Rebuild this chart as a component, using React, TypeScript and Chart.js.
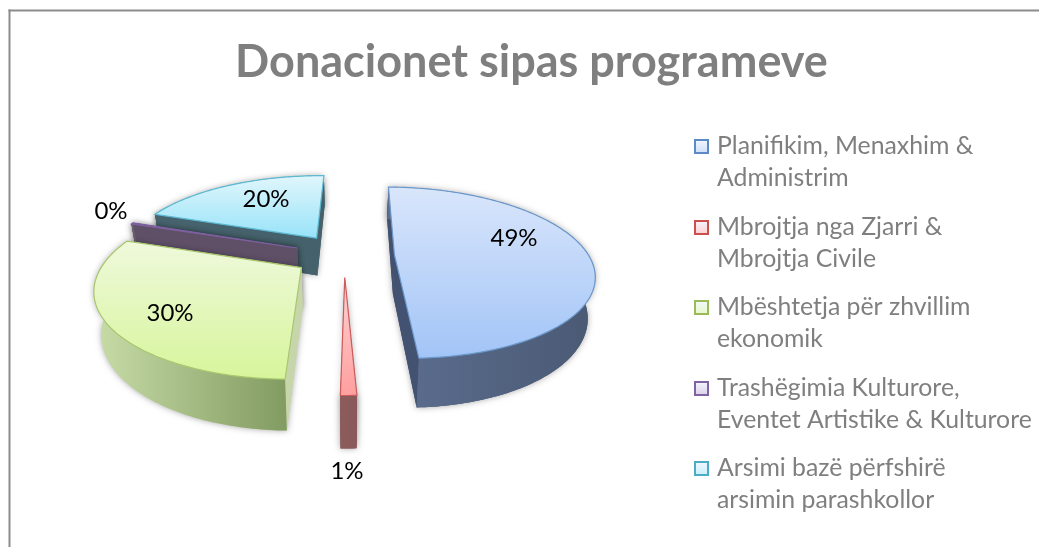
import React, { useEffect, useRef } from "react";
import { Chart, registerables } from "chart.js";

Chart.register(...registerables);

// ---- data ----
const titleText = "Donacionet sipas programeve";
const categories = [
  ["Planifikim, Menaxhim &", "Administrim"],
  ["Mbrojtja nga Zjarri &", "Mbrojtja Civile"],
  ["Mbështetja për zhvillim", "ekonomik"],
  ["Trashëgimia Kulturore,", "Eventet Artistike & Kulturore"],
  ["Arsimi bazë përfshirë", "arsimin parashkollor"],
];
const shares = [49, 1, 30, 0.25, 19.75];

// ---- styles and layout ----
const faceTop = ["#d9e6fb", "#ffd3d3", "#eff9dc", "#8f7fa3", "#e0f6fc"];
const faceBottom = ["#a2c4f7", "#ff9f9f", "#d7f59b", "#8f7fa3", "#98e3f8"];
const edge = ["#6c98cb", "#cd5c5c", "#a9c76e", "#7d5fa0", "#5cb9d2"];
const wallLeft = ["#5c6e90", "#8c5c5c", "#c8dca8", "#6a5f70", "#47636d"];
const wallRight = ["#4a5a74", "#8a5858", "#7c965c", "#5a4c68", "#43606a"];
const wallRadial = ["#435270", "#8a5858", "#c6d6aa", "#5f5068", "#45616b"];
const markerEdge = ["#5b8ac4", "#c9504d", "#9bbb59", "#8064a2", "#4bacc6"];
const markerFill = ["#cfdffa", "#ffd0d0", "#e6f8c8", "#dcd0ea", "#c8f0fb"];
const explode = [0.26, 0.26, 0.26, 0.26, 0.26];
const paintOrder = [4, 3, 0, 2, 1];
const labelSpots = [
  [514, 238],
  [347, 471],
  [170, 313],
  [111, 211],
  [266, 199],
];
const legendRows = [146, 227, 307, 388, 468];

const VIEW_X = 344;
const VIEW_Y = 255;
const PIE_RADIUS = 194;
const TILT = 82 / 194;
const PERSPECTIVE = 0.21;
const DEPTH = 39;
const LOWER_SHRINK = 0.97;
const FONT = "Lato, 'Open Sans', sans-serif";

const pie3d = {
  id: "pie3d",
  beforeDatasetDraw(chart: any) {
    const { ctx } = chart;
    const arcs = chart.getDatasetMeta(0).data;
    paintOrder.forEach((i) => {
      const arc = arcs[i];
      const R = arc.outerRadius;
      const a0 = arc.startAngle + Math.PI / 2;
      const a1 = arc.endAngle + Math.PI / 2;
      const mid = (a0 + a1) / 2;
      const eu = explode[i] * Math.sin(mid);
      const ev = -explode[i] * Math.cos(mid);
      const project = (u: number, v: number, lower: boolean) => {
        const U = u + eu;
        const V = v + ev;
        const w = 1 - PERSPECTIVE * V;
        return [
          VIEW_X + ((R * U) / w) * (lower ? LOWER_SHRINK : 1),
          VIEW_Y + (R * TILT * V + (lower ? DEPTH : 0)) / w,
        ];
      };
      const steps = Math.max(2, Math.ceil(((a1 - a0) * 180) / Math.PI));
      const rim: number[][] = [];
      for (let s = 0; s <= steps; s++) {
        const t = a0 + ((a1 - a0) * s) / steps;
        rim.push([Math.sin(t), -Math.cos(t)]);
      }
      const topRim = rim.map((p) => project(p[0], p[1], false));
      const lowRim = rim.map((p) => project(p[0], p[1], true));
      const apexTop = project(0, 0, false);
      const apexLow = project(0, 0, true);
      const poly = (pts: number[][]) => {
        ctx.beginPath();
        pts.forEach((p, k) => (k ? ctx.lineTo(p[0], p[1]) : ctx.moveTo(p[0], p[1])));
        ctx.closePath();
      };
      const rimWall = [...topRim, ...[...lowRim].reverse()];
      const startWall = [apexTop, topRim[0], lowRim[0], apexLow];
      const endWall = [apexTop, topRim[steps], lowRim[steps], apexLow];
      const face = [apexTop, ...topRim];
      const all = [...rimWall, ...startWall, ...face];
      const xs = all.map((p) => p[0]);
      const ys = face.map((p) => p[1]);
      const minX = Math.min(...xs);
      const maxX = Math.max(...xs);

      ctx.save();
      // soft shadow round the body
      ctx.shadowColor = "rgba(0,0,0,0.35)";
      ctx.shadowBlur = 6;
      ctx.fillStyle = wallRadial[i];
      [rimWall, startWall, endWall].forEach((q) => {
        poly(q);
        ctx.fill();
      });
      ctx.restore();

      ctx.fillStyle = wallRadial[i];
      [startWall, endWall].forEach((q) => {
        poly(q);
        ctx.fill();
      });
      const g = ctx.createLinearGradient(minX, 0, maxX, 0);
      g.addColorStop(0, wallLeft[i]);
      g.addColorStop(1, wallRight[i]);
      ctx.fillStyle = g;
      poly(rimWall);
      ctx.fill();

      const f = ctx.createLinearGradient(0, Math.min(...ys), 0, Math.max(...ys));
      f.addColorStop(0, faceTop[i]);
      f.addColorStop(1, faceBottom[i]);
      ctx.fillStyle = f;
      poly(face);
      ctx.fill();
      ctx.strokeStyle = edge[i];
      ctx.lineWidth = 1.2;
      ctx.stroke();
    });
    return false;
  },
  afterDraw(chart: any) {
    const { ctx } = chart;
    const values = chart.data.datasets[0].data as number[];
    const total = values.reduce((a, b) => a + b, 0);
    ctx.save();
    // frame: only the top and left sides fall inside the picture
    ctx.fillStyle = "#8c8c8c";
    ctx.fillRect(8.5, 9.5, 1031, 2);
    ctx.fillRect(8.5, 9.5, 2, 538);

    // value labels
    ctx.font = `24px ${FONT}`;
    ctx.fillStyle = "#000000";
    ctx.textAlign = "center";
    ctx.textBaseline = "middle";
    values.forEach((v, i) => {
      ctx.fillText(`${Math.round((v / total) * 100)}%`, labelSpots[i][0], labelSpots[i][1]);
    });

    // legend
    ctx.textAlign = "left";
    ctx.font = `24.8px ${FONT}`;
    (chart.data.labels as string[][]).forEach((lines, i) => {
      const y = legendRows[i];
      const m = ctx.createLinearGradient(0, y - 7, 0, y + 7);
      m.addColorStop(0, "#f4f8ff");
      m.addColorStop(1, markerFill[i]);
      ctx.fillStyle = m;
      ctx.fillRect(695, y - 6, 13, 13);
      ctx.strokeStyle = markerEdge[i];
      ctx.lineWidth = 2;
      ctx.strokeRect(695, y - 6, 13, 13);
      ctx.fillStyle = "#7f7f7f";
      lines.forEach((t, k) => ctx.fillText(t, 717, y + k * 32.5));
    });
    ctx.restore();
  },
};

export default function App() {
  const ref = useRef<HTMLCanvasElement>(null);
  useEffect(() => {
    const chart = new Chart(ref.current as HTMLCanvasElement, {
      type: "pie",
      data: {
        labels: categories as any,
        datasets: [
          {
            data: shares,
            radius: PIE_RADIUS,
            backgroundColor: faceBottom,
            borderColor: edge,
          } as any,
        ],
      },
      options: {
        responsive: false,
        animation: false,
        rotation: 1,
        layout: { padding: { left: 24 } },
        plugins: {
          legend: { display: false },
          tooltip: { enabled: false },
          title: {
            display: true,
            text: titleText,
            color: "#7f7f7f",
            font: { family: FONT, size: 45, weight: "bold", lineHeight: 1.2 },
            padding: { top: 35, bottom: 2 },
          },
        },
      },
      plugins: [pie3d],
    } as any);
    return () => chart.destroy();
  }, []);
  return (
    <canvas
      ref={ref}
      width={1039}
      height={547}
      style={{ position: "fixed", left: 0, top: 0, display: "block" }}
    />
  );
}
